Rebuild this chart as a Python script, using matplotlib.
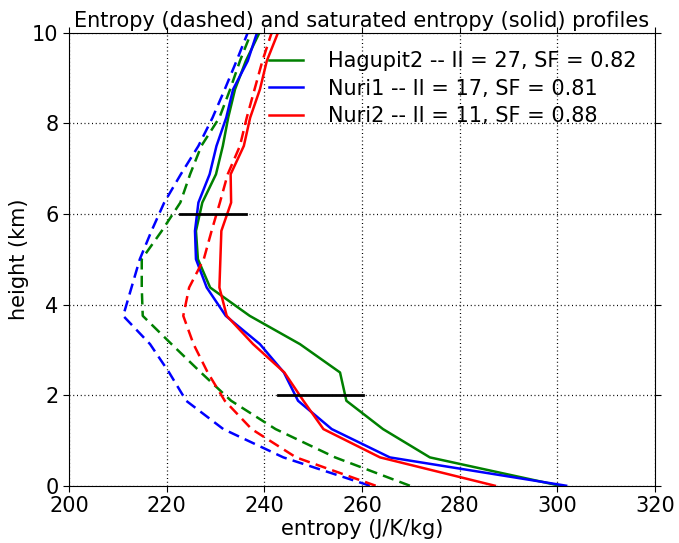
import numpy as np
import matplotlib
matplotlib.use('Agg')
import matplotlib.pyplot as plt

# heights (km) of the profile levels
height = [0, 0.625, 1.25, 1.875, 2.5, 3.125, 3.75, 4.375, 5.0,
          5.625, 6.25, 6.875, 7.5, 8.125, 8.75, 9.375, 10.0]

# saturated entropy (solid)
hagupit2_sat = [300.5, 273.9, 264.3, 256.8, 255.5, 247.3, 237.0, 228.9, 226.4,
                226.0, 227.3, 230.1, 231.5, 232.6, 234.0, 236.2, 239.0]
nuri1_sat = [301.8, 265.7, 253.8, 246.9, 244.0, 239.1, 232.1, 228.2, 226.0,
             225.8, 226.5, 228.8, 230.2, 232.2, 233.6, 236.6, 238.5]
nuri2_sat = [287.2, 263.7, 252.1, 248.0, 244.1, 237.7, 232.3, 230.8, 231.0,
             231.2, 233.2, 233.1, 235.8, 237.1, 239.1, 240.5, 242.8]

# entropy (dashed)
hagupit2_ent = [269.8, 254.5, 242.3, 233.2, 227.0, 221.0, 215.1, 214.9, 214.9,
                219.0, 222.8, 224.8, 227.1, 230.8, 233.0, 235.0, 237.3]
nuri1_ent = [261.6, 243.9, 231.6, 224.0, 220.5, 216.6, 211.1, 212.8, 214.5,
             216.9, 219.5, 222.9, 226.5, 229.4, 231.9, 234.3, 236.6]
nuri2_ent = [262.8, 246.5, 237.4, 231.9, 228.4, 225.5, 223.4, 224.6, 227.6,
             229.2, 230.9, 232.5, 235.0, 236.4, 238.0, 239.6, 241.5]

labels = ['Hagupit2 -- II = 27, SF = 0.82',
          'Nuri1 -- II = 17, SF = 0.81',
          'Nuri2 -- II = 11, SF = 0.88']
colors = ['g', 'b', 'r']

# black bars marking levels
bar_levels = [6, 2]
bar_start = [222.7, 242.8]
bar_end = [236.2, 260.2]

plt.rcParams['font.size'] = 15

fig = plt.figure(figsize=(6.79, 5.43), dpi=100)
ax = fig.add_axes([0.1016, 0.1055, 0.8631, 0.8343])

for sat, ent, lab, c in zip([hagupit2_sat, nuri1_sat, nuri2_sat],
                            [hagupit2_ent, nuri1_ent, nuri2_ent], labels, colors):
    ax.plot(sat, height, color=c, lw=1.8, label=lab)
    ax.plot(ent, height, color=c, lw=1.8, ls=(0, (4.5, 2.5)))

for lev, x0, x1 in zip(bar_levels, bar_start, bar_end):
    ax.plot([x0, x1], [lev, lev], 'k', lw=2)

ax.set_xlim(200, 320)
ax.set_ylim(0, 10)
ax.set_xticks(np.arange(200, 321, 20))
ax.set_yticks(np.arange(0, 11, 2))
ax.grid(True, color='k', ls=(0, (0.8, 2.2)), lw=0.9)
ax.tick_params(direction='out', length=4, top=True, right=True)
ax.set_xlabel('entropy (J/K/kg)', labelpad=2)
ax.set_ylabel('height (km)', labelpad=2)
ax.set_title('Entropy (dashed) and saturated entropy (solid) profiles', fontsize=15, pad=4)
ax.legend(loc='upper right', frameon=False, handlelength=1.6, handletextpad=1.2,
          labelspacing=0.35, fontsize=15, borderaxespad=0.5)

fig.savefig('out.png', dpi=100)
